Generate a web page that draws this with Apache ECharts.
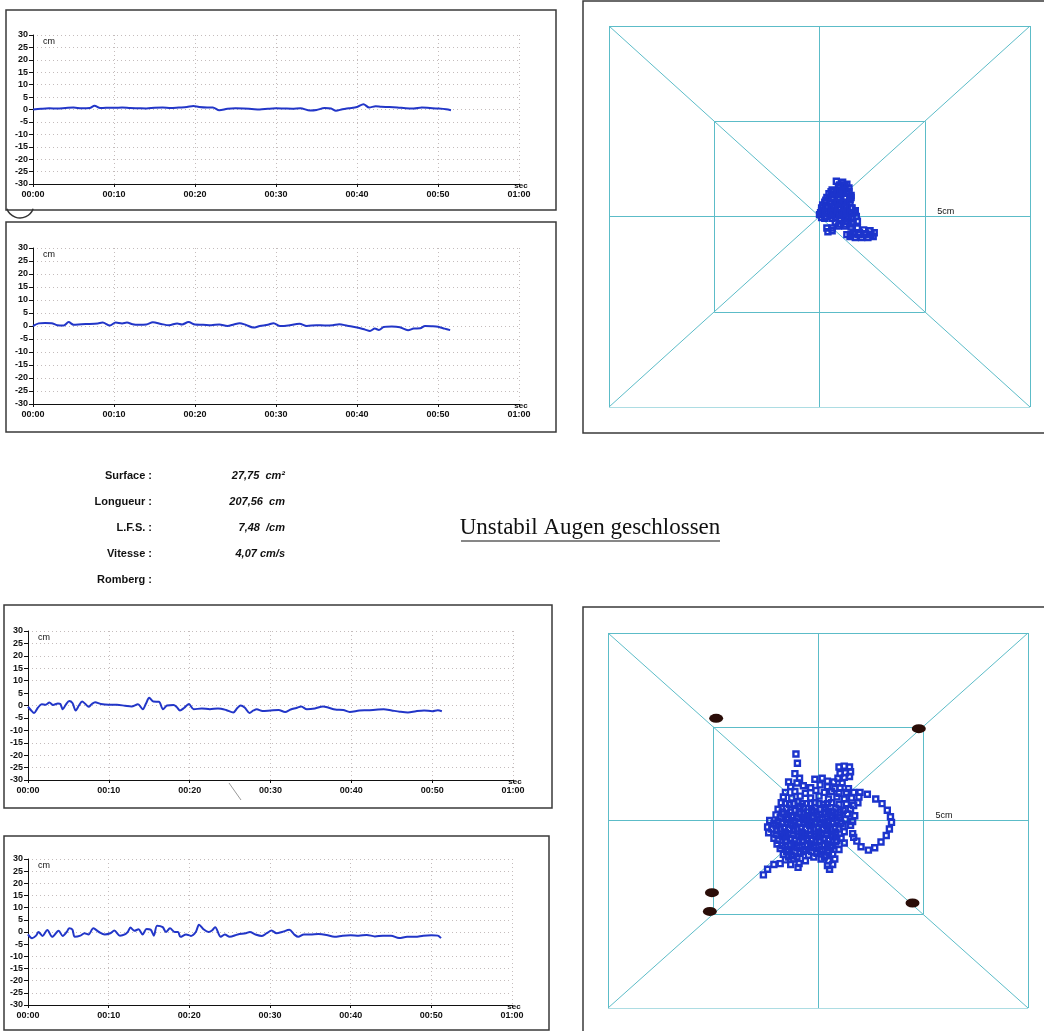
<!DOCTYPE html>
<html><head><meta charset="utf-8">
<script src="https://cdn.jsdelivr.net/npm/echarts@6/dist/echarts.min.js"></script>
<style>html,body{margin:0;padding:0;background:#fff}#c{width:1044px;height:1031px}</style>
</head><body><div id="c"></div><script>
// ---------- DATA ----------
const timeTickLabels = ['00:00','00:10','00:20','00:30','00:40','00:50','01:00'];
const timeMax = 60, timeStep = 10;
const cmMin = -30, cmMax = 30, cmStep = 5;

// time (s), displacement (cm)
const trace1 = [[0,0],[1,0.3],[2,0.5],[3,0.4],[4,0.6],[5,0.8],[6,0.5],[7,0.6],[7.6,1.5],[8.3,0.6],[9,0.7],[10,0.7],[11,0.8],[12,0.6],[13,0.5],[14,0.4],[15,0.7],[16,0.8],[17,0.6],[18,0.8],[19,1.0],[19.8,1.4],[20.5,1.0],[21.5,0.8],[22.2,0.8],[23,-0.3],[24,0.3],[25,0.5],[26,0.4],[27,0.2],[28,0.0],[29,0.3],[30,0.5],[31,0.4],[32,0.3],[33,0.5],[34.2,-0.4],[35,-0.2],[36,0.6],[36.8,0.4],[37.4,-0.5],[38.2,0.1],[39,0.5],[40,1.0],[40.8,2.1],[41.5,0.8],[42.3,1.3],[43,1.1],[44,1.0],[45,0.8],[46,0.5],[47,0.4],[48,0.8],[49,0.6],[50,0.4],[51,0.1],[51.6,-0.3]];
const trace2 = [[0,0],[0.7,1.0],[1.5,1.2],[2.3,1.1],[3,0.3],[3.8,0.2],[4.4,1.5],[5,0.5],[6,0.7],[7,0.8],[8,1.0],[8.6,1.3],[9.5,0.2],[10.2,1.3],[11,1.0],[11.6,1.3],[12.3,0.7],[13,0.5],[14,0.6],[14.8,1.4],[15.8,0.8],[16.8,0.3],[17.8,1.0],[18.4,0.6],[19.2,1.5],[20,0.6],[21,0.5],[22,0.3],[23,0.6],[24,0.0],[24.8,0.6],[25.5,1.1],[26.3,0.4],[27.2,-0.6],[28,0.0],[29,0.5],[29.7,1.1],[30.5,0.0],[31.5,0.2],[32.9,0.9],[33.8,0.0],[35,0.3],[36,0.2],[37,0.3],[37.8,0.7],[38.8,0.1],[40,-0.6],[41,-1.4],[41.6,-1.9],[42.2,-1.0],[42.7,-1.5],[43.3,-0.4],[44.3,-0.2],[45.3,-0.5],[46.3,-1.6],[47,-1.0],[47.8,-0.9],[48.4,0.0],[49.2,-0.1],[50,-0.3],[50.8,-1.0],[51.5,-1.6]];
const trace3 = [[0,-0.5],[0.4,-2.0],[0.75,-3.0],[1.2,-1.0],[1.7,0.5],[2.2,0.3],[2.65,1.2],[3.1,0.2],[3.7,0.8],[4.0,0.6],[4.3,-1.5],[4.7,0.5],[5.1,1.8],[5.5,1.0],[5.9,-2.0],[6.3,0.0],[6.7,1.6],[7.1,0.6],[7.5,-0.5],[7.9,0.6],[8.3,1.3],[9,0.6],[10,0.3],[11,0.3],[12,-0.1],[12.8,-0.4],[13.6,0.5],[14.2,-1.5],[14.6,0.8],[15.0,3.1],[15.5,1.6],[16.2,1.5],[16.7,-1.5],[17.2,0.0],[18,0.2],[18.4,-0.6],[18.8,-2.0],[19.3,-1.0],[19.9,0.6],[20.5,-1.5],[21.5,-1.2],[22.5,-1.5],[23.5,-1.2],[24.5,-1.8],[25.4,-2.8],[25.9,-1.0],[26.3,0.0],[26.8,-0.8],[27.4,-3.0],[27.9,-2.0],[28.3,-1.5],[29,-2.2],[30,-2.0],[31,-1.8],[31.8,-2.6],[32.5,-1.6],[33.2,-1.0],[33.8,-0.4],[34.5,-1.5],[35.5,-1.2],[36.5,-0.4],[37.2,-0.9],[38,-1.6],[39,-1.8],[39.8,-2.6],[41,-2.0],[42,-1.9],[43,-1.7],[44,-1.5],[45,-2.0],[46,-2.5],[47,-2.8],[48,-2.3],[49,-2.0],[50,-2.3],[50.7,-1.9],[51.2,-2.3]];
const trace4 = [[0,-1.0],[0.5,-2.6],[1.0,-1.5],[1.3,0.0],[1.8,-1.6],[2.4,0.8],[3.0,-2.0],[3.8,0.5],[4.3,-1.6],[4.8,0.0],[5.1,1.5],[5.5,1.0],[5.8,-2.0],[6.5,-1.5],[7.0,-0.5],[7.5,-1.0],[8.1,1.5],[8.8,0.0],[9.5,-1.0],[10.2,-0.5],[10.7,0.6],[11.4,-1.5],[12.0,-1.0],[12.4,0.2],[12.7,1.8],[13.2,0.5],[13.7,1.1],[14.2,-1.0],[14.7,1.2],[15.2,1.0],[15.6,-1.5],[16.0,2.6],[16.7,2.0],[17.1,0.0],[17.6,1.5],[18.2,0.0],[18.6,0.0],[18.9,-2.0],[19.6,-1.0],[20.2,-1.6],[20.8,0.0],[21.2,3.0],[21.8,1.0],[22.4,0.0],[22.8,0.6],[23.2,2.0],[23.9,-2.0],[24.4,-1.0],[25,-2.0],[26,-1.0],[27,-0.5],[27.5,0.0],[28.2,-1.0],[29,-1.6],[29.6,-0.5],[30.2,0.6],[30.8,-0.5],[31.5,0.0],[32.4,0.9],[33,-1.0],[33.5,-2.0],[34.2,-1.0],[35,-1.0],[36,-0.8],[37,-1.2],[38,-2.0],[39,-1.5],[40,-1.3],[41,-1.5],[42,-1.2],[43,-1.8],[44,-1.5],[45,-1.5],[46,-2.5],[47,-2.0],[48,-2.0],[49,-1.5],[50,-1.3],[50.8,-1.5],[51.2,-2.5]];

// stabilogram (x cm, y cm)
const swayTop = [[0.8,1.85],[1.1,1.8],[1.3,1.7],[1.4,1.5],[1.2,1.45],[0.9,1.5],[0.6,1.4],[0.45,1.2],[0.7,1.15],[1.0,1.2],[1.3,1.25],[1.5,1.1],[1.45,0.9],[1.2,0.95],[0.9,0.9],[0.6,0.95],[0.3,0.85],[0.15,0.6],[0.4,0.55],[0.7,0.6],[1.0,0.65],[1.3,0.6],[1.5,0.45],[1.7,0.3],[1.55,0.15],[1.3,0.3],[1.0,0.35],[0.7,0.3],[0.4,0.25],[0.1,0.3],[0.0,0.1],[0.1,-0.05],[0.35,0.0],[0.55,0.05],[0.8,0.1],[1.1,0.05],[1.4,0.0],[1.75,0.0],[1.8,-0.25],[1.6,-0.3],[1.3,-0.25],[1.0,-0.2],[0.75,-0.3],[0.9,-0.5],[1.2,-0.5],[1.5,-0.55],[1.8,-0.6],[2.1,-0.7],[2.4,-0.75],[2.6,-0.85],[2.55,-1.05],[2.3,-1.1],[2.0,-1.1],[1.7,-1.1],[1.45,-1.05],[1.3,-0.95],[1.6,-0.9],[1.9,-0.85],[2.2,-0.9],[0.4,-0.8],[0.6,-0.75],[0.35,-0.6],[0.6,-0.6],
[0.95,1.65],[1.2,1.65],[0.55,1.3],[0.85,1.3],[1.15,1.3],[1.4,1.3],[0.35,1.0],[0.65,1.0],[0.95,1.0],[1.25,1.0],[1.5,1.0],[0.25,0.75],[0.55,0.75],[0.85,0.75],[1.15,0.75],[1.45,0.75],[0.1,0.45],[0.3,0.45],[0.6,0.45],[0.9,0.45],[1.2,0.45],[1.55,0.45],[0.05,0.2],[0.25,0.2],[0.55,0.2],[0.85,0.2],[1.15,0.2],[1.45,0.2],[1.65,0.2],[0.25,-0.1],[0.6,-0.1],[0.95,-0.1],[1.25,-0.1],[1.55,-0.1],[0.95,-0.4],[1.25,-0.4],[1.55,-0.4],[1.5,-0.95],[1.85,-0.95],[2.15,-0.95],[2.45,-0.95]];
const swayBottom = [[-1.05,3.55],[-0.98,3.05],[-1.1,2.5],[-0.88,2.25],
[1.0,2.85],[1.25,2.9],[1.5,2.85],[1.55,2.6],[1.3,2.55],[1.05,2.5],[0.95,2.25],[1.25,2.3],[1.5,2.35],
[-1.4,2.05],[-1.0,2.0],[-0.15,2.2],[0.2,2.25],[0.45,2.1],[0.75,2.05],[1.15,2.0],
[-1.3,1.8],[-0.7,1.85],[-0.35,1.75],[0.1,1.9],[0.45,1.8],[0.8,1.7],[1.05,1.75],[1.45,1.7],
[-1.55,1.5],[-1.1,1.55],[-0.6,1.45],[-0.1,1.6],[0.3,1.5],[0.65,1.55],[1.0,1.45],[1.35,1.5],[1.7,1.5],[2.0,1.5],[2.35,1.4],[2.75,1.15],
[-1.65,1.25],[-1.25,1.2],[-0.85,1.3],[-0.35,1.2],[0.05,1.3],[0.5,1.15],[0.9,1.25],[1.25,1.15],[1.6,1.2],[1.95,1.25],[3.05,0.9],
[-1.75,0.95],[-1.35,0.85],[-0.95,1.0],[-0.55,0.9],[-0.15,0.95],[0.25,0.85],[0.65,0.95],[1.0,0.85],[1.35,0.9],[1.7,0.8],[1.9,0.95],[3.3,0.55],
[-1.9,0.6],[-1.5,0.65],[-1.1,0.55],[-0.7,0.65],[-0.3,0.55],[0.1,0.6],[0.5,0.5],[0.85,0.65],[1.2,0.55],[1.55,0.6],[3.45,0.2],
[-2.0,0.3],[-1.65,0.35],[-1.25,0.25],[-0.85,0.35],[-0.45,0.25],[-0.05,0.3],[0.35,0.35],[0.7,0.25],[1.05,0.3],[1.4,0.35],[1.75,0.25],
[-2.3,0.0],[-1.9,-0.05],[-1.5,0.05],[-1.1,-0.05],[-0.7,0.05],[-0.3,-0.05],[0.1,0.05],[0.5,-0.05],[0.9,0.0],[1.3,0.05],[1.65,-0.05],[3.5,-0.1],
[-2.4,-0.35],[-2.0,-0.25],[-1.6,-0.35],[-1.2,-0.25],[-0.8,-0.35],[-0.4,-0.25],[0.0,-0.35],[0.4,-0.25],[0.8,-0.35],[1.2,-0.3],[1.55,-0.25],[3.4,-0.45],
[-2.35,-0.65],[-1.95,-0.55],[-1.55,-0.65],[-1.15,-0.55],[-0.75,-0.65],[-0.35,-0.55],[0.05,-0.65],[0.45,-0.55],[0.85,-0.65],[1.25,-0.6],[1.65,-0.7],[3.25,-0.8],
[-2.1,-0.95],[-1.7,-0.85],[-1.3,-0.95],[-0.9,-0.85],[-0.5,-0.95],[-0.1,-0.85],[0.3,-0.95],[0.7,-0.85],[1.1,-0.95],[1.7,-0.9],[1.85,-1.1],[3.0,-1.15],
[-1.95,-1.25],[-1.55,-1.15],[-1.15,-1.25],[-0.75,-1.15],[-0.35,-1.25],[0.05,-1.15],[0.45,-1.25],[0.85,-1.15],[1.25,-1.2],[2.05,-1.4],[2.7,-1.45],
[-1.8,-1.5],[-1.4,-1.55],[-1.0,-1.45],[-0.6,-1.55],[-0.2,-1.45],[0.2,-1.55],[0.6,-1.45],[1.0,-1.55],[2.4,-1.58],
[-1.65,-1.8],[-1.25,-1.85],[-0.85,-1.75],[-0.45,-1.85],[-0.05,-1.75],[0.35,-1.85],[0.7,-1.8],
[-1.55,-2.1],[-1.15,-2.05],[-0.6,-2.15],[0.15,-2.05],[0.5,-2.15],[0.8,-2.05],
[-2.1,-2.35],[-1.8,-2.3],[-1.3,-2.35],[-0.9,-2.3],[0.45,-2.4],[0.7,-2.35],
[-2.4,-2.6],[-0.95,-2.5],[0.55,-2.6],[-2.6,-2.9],
[-0.5,0.1],[-0.2,0.45],[0.25,-0.45],[-0.6,-0.8],[-0.95,0.15],[0.6,0.15],[-0.3,-1.0],[0.15,-0.75],[-1.35,-0.45],[-0.85,0.75],[0.35,0.7],[-0.15,-0.15],
[-1.55,0.9],[-1.15,0.9],[-0.75,0.9],[-0.35,0.9],[0.05,0.9],[0.45,0.9],
[-1.7,0.45],[-1.3,0.45],[-0.9,0.45],[-0.5,0.45],[-0.1,0.45],[0.3,0.45],[0.7,0.45],[1.05,0.45],
[-1.8,0.15],[-1.4,0.15],[-1.0,0.15],[-0.6,0.15],[-0.2,0.15],[0.2,0.15],[0.6,0.15],[1.0,0.15],
[-2.1,-0.15],[-1.7,-0.15],[-1.3,-0.15],[-0.9,-0.15],[-0.5,-0.15],[-0.1,-0.15],[0.3,-0.15],[0.7,-0.15],[1.1,-0.15],
[-2.2,-0.45],[-1.8,-0.45],[-1.4,-0.45],[-1.0,-0.45],[-0.6,-0.45],[-0.2,-0.45],[0.2,-0.45],[0.6,-0.45],[1.0,-0.45],
[-2.0,-0.75],[-1.6,-0.75],[-1.2,-0.75],[-0.8,-0.75],[-0.4,-0.75],[0.0,-0.75],[0.4,-0.75],[0.8,-0.75],
[-1.9,-1.05],[-1.5,-1.05],[-1.1,-1.05],[-0.7,-1.05],[-0.3,-1.05],[0.1,-1.05],[0.5,-1.05],[0.9,-1.05],
[-1.7,-1.35],[-1.3,-1.35],[-0.9,-1.35],[-0.5,-1.35],[-0.1,-1.35],[0.3,-1.35],[0.7,-1.35],
[-1.5,-1.65],[-1.1,-1.65],[-0.7,-1.65],[-0.3,-1.65],[0.1,-1.65],[0.5,-1.65],
[-1.4,-1.95],[-1.0,-1.95],[-0.2,-1.95],[0.3,-1.95]];
// dark scan marks near inner square corners (bottom stabilogram)
const scanMarks = [[-4.85,5.45],[4.8,4.9],[-5.05,-3.85],[-5.15,-4.85],[4.5,-4.4]];

const frameOuter = 10, frameInner = 5;

const statLabels = ['Surface :','Longueur :','L.F.S. :','Vitesse :','Romberg :'];
const statValues = ['27,75  cm²','207,56  cm','7,48  /cm','4,07 cm/s',''];
const titleText = 'Unstabil Augen geschlossen';

// ---------- LAYOUT ----------
const lineGrids = [
  {left:33, top:35, width:486, height:149},
  {left:33, top:248, width:486, height:156},
  {left:28, top:631, width:485, height:149},
  {left:28, top:859, width:484, height:146}
];
const swayGrids = [
  {left:609, top:26, width:421, height:381},
  {left:608, top:633, width:420, height:375}
];
const traces = [trace1, trace2, trace3, trace4];
const FONT = 'Liberation Sans, Arial, sans-serif';

const grid = lineGrids.concat(swayGrids);
const xAxis = [], yAxis = [], series = [];
const dotted = {color:'#c4bcbc', type:[1,3], width:1};

lineGrids.forEach((g, i) => {
  xAxis.push({type:'value', gridIndex:i, min:0, max:timeMax, interval:timeStep,
    axisLine:{onZero:false, lineStyle:{color:'#111', width:1}},
    axisTick:{show:true, length:3, lineStyle:{color:'#111'}},
    axisLabel:{formatter:v=>timeTickLabels[Math.round(v/timeStep)], fontSize:9, fontWeight:'bold', color:'#111', margin:6, fontFamily:FONT},
    splitLine:{show:true, lineStyle:dotted}});
  yAxis.push({type:'value', gridIndex:i, min:cmMin, max:cmMax, interval:cmStep,
    axisLine:{show:true, onZero:false, lineStyle:{color:'#111', width:1}},
    axisTick:{show:true, length:4, lineStyle:{color:'#111'}},
    axisLabel:{fontSize:9, fontWeight:'bold', color:'#111', margin:5, fontFamily:FONT},
    splitLine:{show:true, lineStyle:dotted}});
  series.push({type:'line', xAxisIndex:i, yAxisIndex:i, data:traces[i], showSymbol:false,
    smooth:0.3, lineStyle:{color:'#2236c8', width:2}, silent:true});
});

const segs = [
  [[-frameOuter,-frameOuter],[frameOuter,-frameOuter]],[[frameOuter,-frameOuter],[frameOuter,frameOuter]],
  [[frameOuter,frameOuter],[-frameOuter,frameOuter]],[[-frameOuter,frameOuter],[-frameOuter,-frameOuter]],
  [[-frameInner,-frameInner],[frameInner,-frameInner]],[[frameInner,-frameInner],[frameInner,frameInner]],
  [[frameInner,frameInner],[-frameInner,frameInner]],[[-frameInner,frameInner],[-frameInner,-frameInner]],
  [[0,-frameOuter],[0,frameOuter]],[[-frameOuter,0],[frameOuter,0]],
  [[-frameOuter,-frameOuter],[frameOuter,frameOuter]],[[-frameOuter,frameOuter],[frameOuter,-frameOuter]]
].map(c=>({coords:c}));

swayGrids.forEach((g, k) => {
  const gi = 4 + k;
  xAxis.push({type:'value', gridIndex:gi, min:-frameOuter, max:frameOuter, show:false});
  yAxis.push({type:'value', gridIndex:gi, min:-frameOuter, max:frameOuter, show:false});
  series.push({type:'lines', coordinateSystem:'cartesian2d', xAxisIndex:gi, yAxisIndex:gi, data:segs, silent:true,
    lineStyle:{color:'#5cbcc8', width:1, opacity:1}, z:1});
  series.push({type:'scatter', xAxisIndex:gi, yAxisIndex:gi, data:k===0?swayTop:swayBottom, symbol:'rect', symbolSize:5, silent:true,
    itemStyle:{color:'rgba(255,255,255,0)', borderColor:'#1c34cc', borderWidth:2.4, opacity:1}, z:3});
});
series.push({type:'scatter', xAxisIndex:5, yAxisIndex:5, data:scanMarks, symbol:'circle', symbolSize:[14,9], silent:true,
  itemStyle:{color:'#2a0d08', opacity:1}, z:4});

// ---------- GRAPHIC (boxes, texts) ----------
const graphic = [];
const boxes = [[6,10,550,200],[6,222,550,210],[4,605,548,203],[4,836,545,194],[583,1,470,432],[583,607,470,430]];
boxes.forEach(b => graphic.push({type:'rect', shape:{x:b[0],y:b[1],width:b[2],height:b[3]}, style:{fill:'none', stroke:'#3a3a3a', lineWidth:1.5}, z:0, silent:true}));
const txt = (x,y,t,font,align,fill) => ({type:'text', x, y, silent:true, z:10,
  style:{text:t, font, fill:fill||'#111', textAlign:align||'left', align:align||'left', textVerticalAlign:'middle', verticalAlign:'middle'}});
lineGrids.forEach(g => {
  graphic.push(txt(g.left+10, g.top+7, 'cm', '9px '+FONT));
  graphic.push(txt(g.left+g.width+2, g.top+g.height+2, 'sec', 'bold 8px '+FONT, 'center'));
});
swayGrids.forEach(g => graphic.push(txt(g.left+g.width*0.8, g.top+g.height/2-5, '5cm', '9px '+FONT, 'center')));
statLabels.forEach((l,i) => {
  graphic.push(txt(152, 476+i*26, l, 'bold 11px '+FONT, 'right'));
  if (statValues[i]) graphic.push(txt(285, 476+i*26, statValues[i], 'italic bold 11px '+FONT, 'right'));
});
graphic.push(txt(590, 528, titleText, '23px Liberation Serif, Times New Roman, serif', 'center', '#111'));
graphic.push({type:'line', shape:{x1:461,y1:541,x2:720,y2:541}, style:{stroke:'#111', lineWidth:1.2}, silent:true});
// scan artefacts
graphic.push({type:'arc', shape:{cx:20, cy:204, r:14, startAngle:0.35, endAngle:Math.PI-0.35, clockwise:true}, style:{stroke:'#333', fill:'none', lineWidth:1.5}, silent:true});
graphic.push({type:'line', shape:{x1:229,y1:783,x2:241,y2:800}, style:{stroke:'#999', lineWidth:1}, silent:true});

const chart = echarts.init(document.getElementById('c'), null, {renderer:'canvas'});
chart.setOption({animation:false, backgroundColor:'#fff', grid, xAxis, yAxis, series, graphic});
</script></body></html>
